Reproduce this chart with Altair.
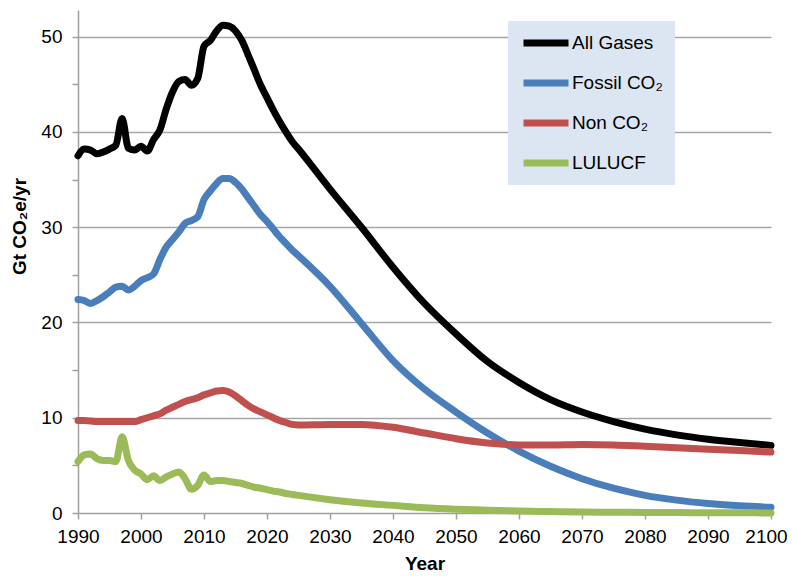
import altair as alt
import pandas as pd

years = list(range(1990, 2026)) + list(range(2030, 2101, 5))

all_gases = [37.5, 38.2, 38.1, 37.7, 37.9, 38.2, 38.6, 41.4, 38.3, 38.1,
             38.5, 38.0, 39.2, 40.2, 42.4, 44.2, 45.3, 45.5, 44.9, 45.6,
             49.0, 49.6, 50.6, 51.2, 51.1, 50.6, 49.6, 48.1, 46.5, 44.9,
             43.6, 42.3, 41.1, 40.0, 39.0, 38.2,
             34.0, 30.0, 25.8, 22.0, 18.8, 15.9, 13.7, 11.9, 10.6, 9.6,
             8.8, 8.2, 7.75, 7.4, 7.1]

fossil_co2 = [22.4, 22.3, 22.0, 22.3, 22.7, 23.2, 23.7, 23.8, 23.4, 23.8,
              24.4, 24.7, 25.1, 26.6, 27.9, 28.7, 29.5, 30.4, 30.7, 31.1,
              32.9, 33.8, 34.6, 35.1, 35.1, 34.7, 34.0, 33.1, 32.2, 31.3,
              30.6, 29.8, 29.0, 28.3, 27.6, 27.0,
              23.8, 19.9, 16.0, 13.0, 10.6, 8.4, 6.5, 4.9, 3.6, 2.6,
              1.85, 1.35, 1.0, 0.75, 0.6]

non_co2 = [9.7, 9.7, 9.65, 9.6, 9.6, 9.6, 9.6, 9.6, 9.6, 9.6,
           9.8, 10.0, 10.2, 10.4, 10.8, 11.1, 11.4, 11.7, 11.9, 12.1,
           12.4, 12.6, 12.8, 12.85, 12.7, 12.3, 11.8, 11.3, 10.9, 10.6,
           10.3, 10.0, 9.7, 9.5, 9.3, 9.25,
           9.3, 9.3, 9.0, 8.4, 7.8, 7.35, 7.15, 7.15, 7.2, 7.15,
           7.0, 6.85, 6.7, 6.55, 6.4]

lulucf = [5.4, 6.1, 6.2, 5.7, 5.5, 5.5, 5.4, 8.0, 5.5, 4.5,
          4.1, 3.5, 3.9, 3.4, 3.8, 4.1, 4.3, 3.6, 2.5, 2.9,
          4.0, 3.3, 3.4, 3.4, 3.3, 3.2, 3.1, 2.9, 2.7, 2.6,
          2.45, 2.3, 2.2, 2.05, 1.95, 1.85,
          1.4, 1.05, 0.8, 0.55, 0.4, 0.3, 0.2, 0.15, 0.1, 0.08,
          0.05, 0.04, 0.03, 0.02, 0.01]

series_names = ["All Gases", "Fossil CO\u2082", "Non CO\u2082", "LULUCF"]
series_colors = ["#000000", "#4a7ebb", "#c0504d", "#9bbb59"]
series_values = [all_gases, fossil_co2, non_co2, lulucf]

x_ticks = list(range(1990, 2101, 10))
y_ticks = list(range(0, 51, 5))

rows = []
for i, (name, vals) in enumerate(zip(series_names, series_values)):
    for yr, v in zip(years, vals):
        rows.append({"Year": yr, "Value": v, "Series": name, "ord": i})
df = pd.DataFrame(rows)

FONT = "Liberation Sans"

chart = alt.Chart(df).mark_line(
    strokeWidth=7, strokeCap="round", strokeJoin="round", interpolate="monotone"
).encode(
    x=alt.X("Year:Q",
            scale=alt.Scale(domain=[1990, 2100], nice=False, zero=False),
            axis=alt.Axis(values=x_ticks, format="d", grid=False, title="Year",
                          labelOverlap=False, labelFlush=False,
                          labelOffset={"condition": {"test": "datum.value >= 2100", "value": -5}, "value": 0},
                          tickSize=6, labelPadding=8, titlePadding=8)),
    y=alt.Y("Value:Q",
            scale=alt.Scale(domain=[0, 52.8], nice=False),
            axis=alt.Axis(values=y_ticks, title="Gt CO\u2082e/yr",
                          labelExpr="datum.value % 10 == 0 ? datum.label : ''",
                          gridOpacity={"condition": {"test": "datum.value % 10 == 0 && datum.value > 0", "value": 1}, "value": 0},
                          labelOverlap=False,
                          tickSize=6, labelPadding=10,
                          titleX=-49, titleY=216)),
    color=alt.Color("Series:N",
                    scale=alt.Scale(domain=series_names, range=series_colors),
                    legend=alt.Legend(orient="none", legendX=430, legendY=11,
                                      title=None, fillColor="#dce6f2",
                                      padding=12, symbolType="stroke",
                                      symbolSize=2025, symbolStrokeWidth=7,
                                      clipHeight=20, rowPadding=20,
                                      labelOffset=0, labelFontSize=19,
                                      labelFont=FONT, labelColor="#000000")),
    detail="Series:N",
    order="ord:Q",
).properties(
    width=693,
    height=503,
    autosize=alt.AutoSizeParams(type="none"),
    padding={"left": 70, "top": 2, "right": 16, "bottom": 62},
).configure_view(
    stroke=None
).configure_axis(
    domainColor="#a0a0a0",
    domainWidth=1.5,
    tickColor="#a0a0a0",
    tickWidth=1.5,
    gridColor="#a6a6a6",
    gridWidth=1.5,
    labelFont=FONT,
    labelFontSize=19,
    labelColor="#000000",
    titleFont=FONT,
    titleFontSize=19,
    titleFontWeight="bold",
    titleColor="#000000",
)

chart.save("out.html", embed_options={"renderer": "svg", "actions": False})
